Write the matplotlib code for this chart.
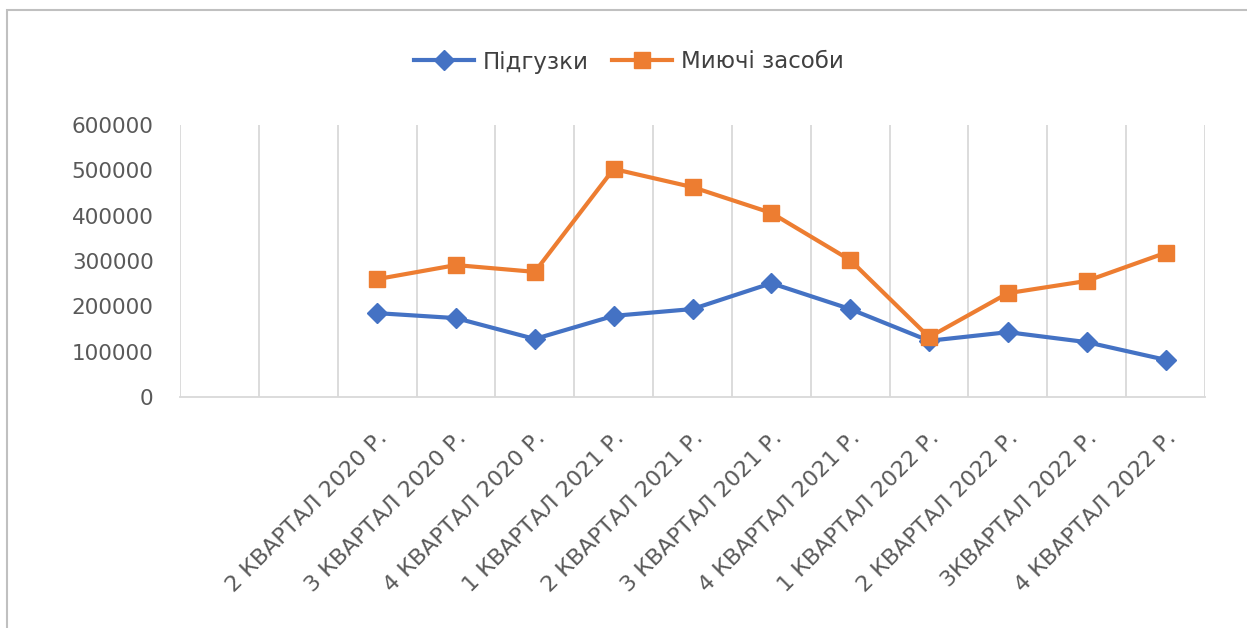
import numpy as np
import matplotlib.pyplot as plt
from matplotlib.patches import Rectangle

# Data
quarters = ['', '',
            '2 КВАРТАЛ 2020 Р.', '3 КВАРТАЛ 2020 Р.', '4 КВАРТАЛ 2020 Р.',
            '1 КВАРТАЛ 2021 Р.', '2 КВАРТАЛ 2021 Р.', '3 КВАРТАЛ 2021 Р.',
            '4 КВАРТАЛ 2021 Р.', '1 КВАРТАЛ 2022 Р.', '2 КВАРТАЛ 2022 Р.',
            '3КВАРТАЛ 2022 Р.', '4 КВАРТАЛ 2022 Р.']
diapers = [np.nan, np.nan, 185000, 174000, 128000, 179000, 194000,
           251000, 194000, 124000, 143000, 121000, 82000]
detergents = [np.nan, np.nan, 260000, 291000, 276000, 503000, 463000,
              406000, 302000, 132000, 229000, 256000, 318000]

W, H = 1247, 628
fig = plt.figure(figsize=(W / 100, H / 100), dpi=100)

# outer chart frame
fig.patches.append(Rectangle((7 / W, -0.2), 1.2, 1.2 - 10 / H,
                             transform=fig.transFigure, fill=False,
                             edgecolor='#c0c0c0', linewidth=1.5))

ax = fig.add_axes([180 / W, 1 - 397 / H, (1205 - 180) / W, (397 - 125) / H])

x = np.arange(len(quarters))
ax.plot(x, diapers, color='#4472C4', lw=3, marker='D', ms=10,
        label='Підгузки')
ax.plot(x, detergents, color='#ED7D31', lw=3, marker='s', ms=12,
        label='Миючі засоби')

ax.set_xlim(-0.5, len(quarters) - 0.5)
ax.set_ylim(0, 600000)
ax.set_yticks(np.arange(0, 600001, 100000))

# vertical grid between categories
ax.set_xticks(np.arange(-0.5, len(quarters)), minor=True)
ax.grid(True, which='minor', axis='x', color='#d9d9d9', lw=1.3)
ax.set_xticks(x)
ax.set_xticklabels(quarters, rotation=45, ha='right', va='top',
                   rotation_mode='anchor', fontsize=16, color='#595959')
ax.tick_params(axis='x', which='both', length=0, pad=22)
ax.tick_params(axis='y', length=0, pad=19, labelsize=15.5,
               labelcolor='#595959')

for s in ['left', 'right', 'top']:
    ax.spines[s].set_visible(False)
ax.spines['bottom'].set_color('#d9d9d9')
ax.spines['bottom'].set_linewidth(1.3)

fig.legend(loc='center', bbox_to_anchor=(629 / W, 1 - 62 / H), ncol=2,
           frameon=False, fontsize=16.5, handlelength=2.6,
           columnspacing=1.0, handletextpad=0.4, labelcolor='#404040')

fig.savefig('out.png', dpi=100)
